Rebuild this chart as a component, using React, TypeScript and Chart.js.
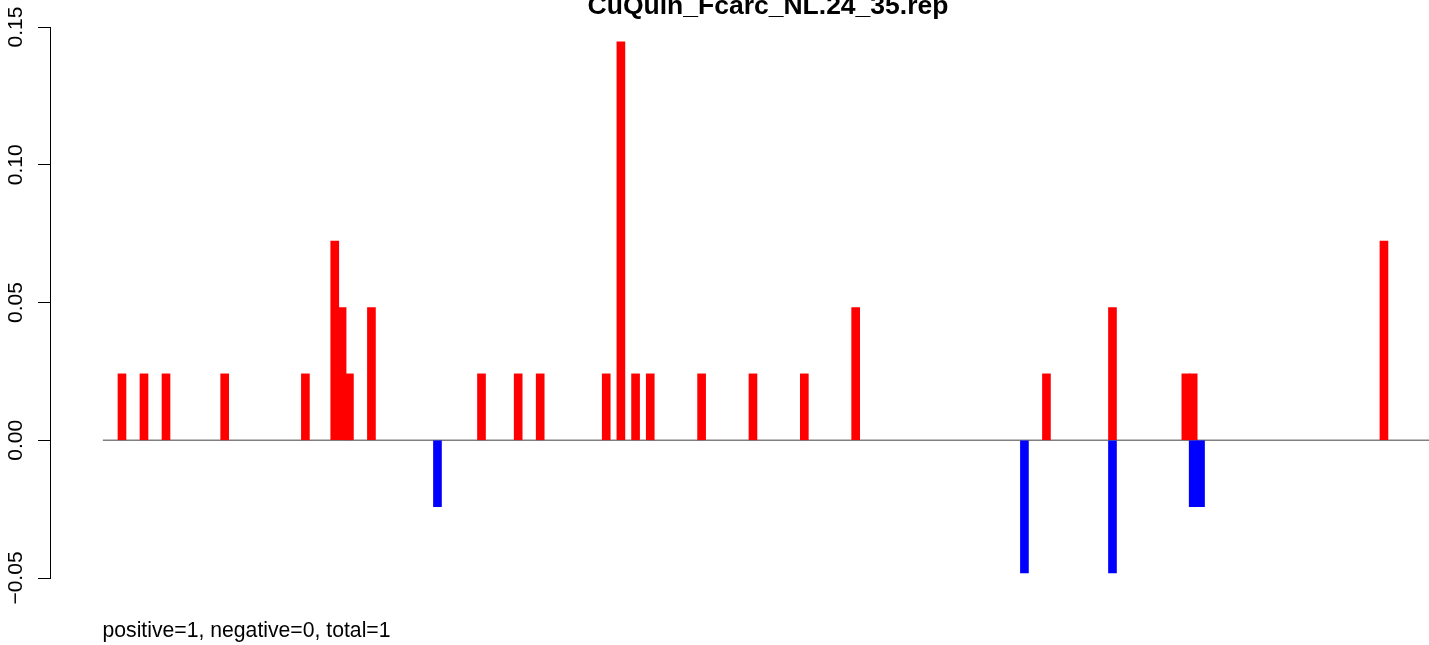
import React, { useEffect, useRef } from "react";
import { Chart, registerables } from "chart.js";

Chart.register(...registerables);

const TITLE = "CuQuin_Fcarc_NL.24_35.rep";
const FOOTER = "positive=1, negative=0, total=1";

// positions along the sequence (x) and values (y)
const positivePositions = [0, 3, 6, 14, 25, 29, 30, 31, 34, 49, 54, 57, 66, 68, 70, 72, 79, 86, 93, 100, 126, 135, 145, 146, 172];
const positiveValues = [0.0241, 0.0241, 0.0241, 0.0241, 0.0241, 0.0723, 0.0482, 0.0241, 0.0482, 0.0241, 0.0241, 0.0241, 0.0241, 0.1446, 0.0241, 0.0241, 0.0241, 0.0241, 0.0241, 0.0482, 0.0241, 0.0482, 0.0241, 0.0241, 0.0723];

const negativePositions = [43, 123, 135, 146, 147];
const negativeValues = [-0.0241, -0.0482, -0.0482, -0.0241, -0.0241];

const yTicks = [-0.05, 0, 0.05, 0.1, 0.15];
const yTickLabels = ["\u22120.05", "0.00", "0.05", "0.10", "0.15"];

const X_MIN = -9.81;
const X_MAX = 178.14;
const BASELINE_START = -2.6;

const FONT = '"Liberation Sans", Arial, Helvetica, sans-serif';

const overlayPlugin = {
  id: "overlay",
  beforeDatasetsDraw(chart: any) {
    const { ctx, chartArea, scales } = chart;
    const x = scales.x;
    const y = scales.y;
    const y0 = y.getPixelForValue(0);
    ctx.save();
    ctx.strokeStyle = "#808080";
    ctx.lineWidth = 1.6;
    ctx.beginPath();
    ctx.moveTo(x.getPixelForValue(BASELINE_START), y0);
    ctx.lineTo(chartArea.right, y0);
    ctx.stroke();
    ctx.restore();
  },
  afterDraw(chart: any) {
    const { ctx, scales } = chart;
    const y = scales.y;
    ctx.save();
    ctx.fillStyle = "#000";
    // y tick labels, rotated
    ctx.font = `21px ${FONT}`;
    ctx.textAlign = "center";
    ctx.textBaseline = "alphabetic";
    yTicks.forEach((v, i) => {
      const py = y.getPixelForValue(v);
      ctx.save();
      ctx.translate(22, py);
      ctx.rotate(-Math.PI / 2);
      ctx.fillText(yTickLabels[i], 0, 0);
      ctx.restore();
    });
    // title
    ctx.font = `bold 26.5px ${FONT}`;
    ctx.textAlign = "center";
    ctx.fillText(TITLE, 768, 14);
    // footer
    ctx.font = `21.2px ${FONT}`;
    ctx.textAlign = "left";
    ctx.fillText(FOOTER, 102.5, 637);
    ctx.restore();
  },
};

export default function App() {
  const canvasRef = useRef<HTMLCanvasElement | null>(null);

  useEffect(() => {
    const canvas = canvasRef.current;
    if (!canvas) return;
    const chart = new Chart(canvas, {
      type: "bar",
      data: {
        datasets: [
          {
            label: "positive",
            data: positivePositions.map((p, i) => ({ x: p, y: positiveValues[i] })),
            backgroundColor: "#FF0000",
            borderWidth: 0,
            barThickness: 8,
            grouped: false,
          } as any,
          {
            label: "negative",
            data: negativePositions.map((p, i) => ({ x: p, y: negativeValues[i] })),
            backgroundColor: "#0000FF",
            borderWidth: 0,
            barThickness: 8,
            grouped: false,
          } as any,
        ],
      },
      options: {
        responsive: false,
        animation: false,
        devicePixelRatio: 1,
        layout: { padding: { left: 0, right: 0, top: 27, bottom: 67 } },
        plugins: {
          legend: { display: false },
          title: { display: false },
          tooltip: { enabled: false },
        },
        scales: {
          x: {
            type: "linear",
            min: X_MIN,
            max: X_MAX,
            offset: false,
            display: false,
          },
          y: {
            type: "linear",
            min: -0.05,
            max: 0.15,
            afterBuildTicks: (s: any) => {
              s.ticks = yTicks.map((v) => ({ value: v }));
            },
            afterFit: (s: any) => {
              s.width = 50;
            },
            ticks: { display: false },
            grid: {
              drawOnChartArea: false,
              drawTicks: true,
              tickLength: 12,
              color: "#000",
              lineWidth: 1,
            },
            border: { display: true, color: "#000", width: 1 },
          },
        },
      },
      plugins: [overlayPlugin],
    });
    return () => chart.destroy();
  }, []);

  return (
    <div style={{ position: "absolute", left: 0, top: 0, width: 1429, height: 645, background: "#fff" }}>
      <canvas ref={canvasRef} width={1429} height={645} style={{ display: "block" }} />
    </div>
  );
}
